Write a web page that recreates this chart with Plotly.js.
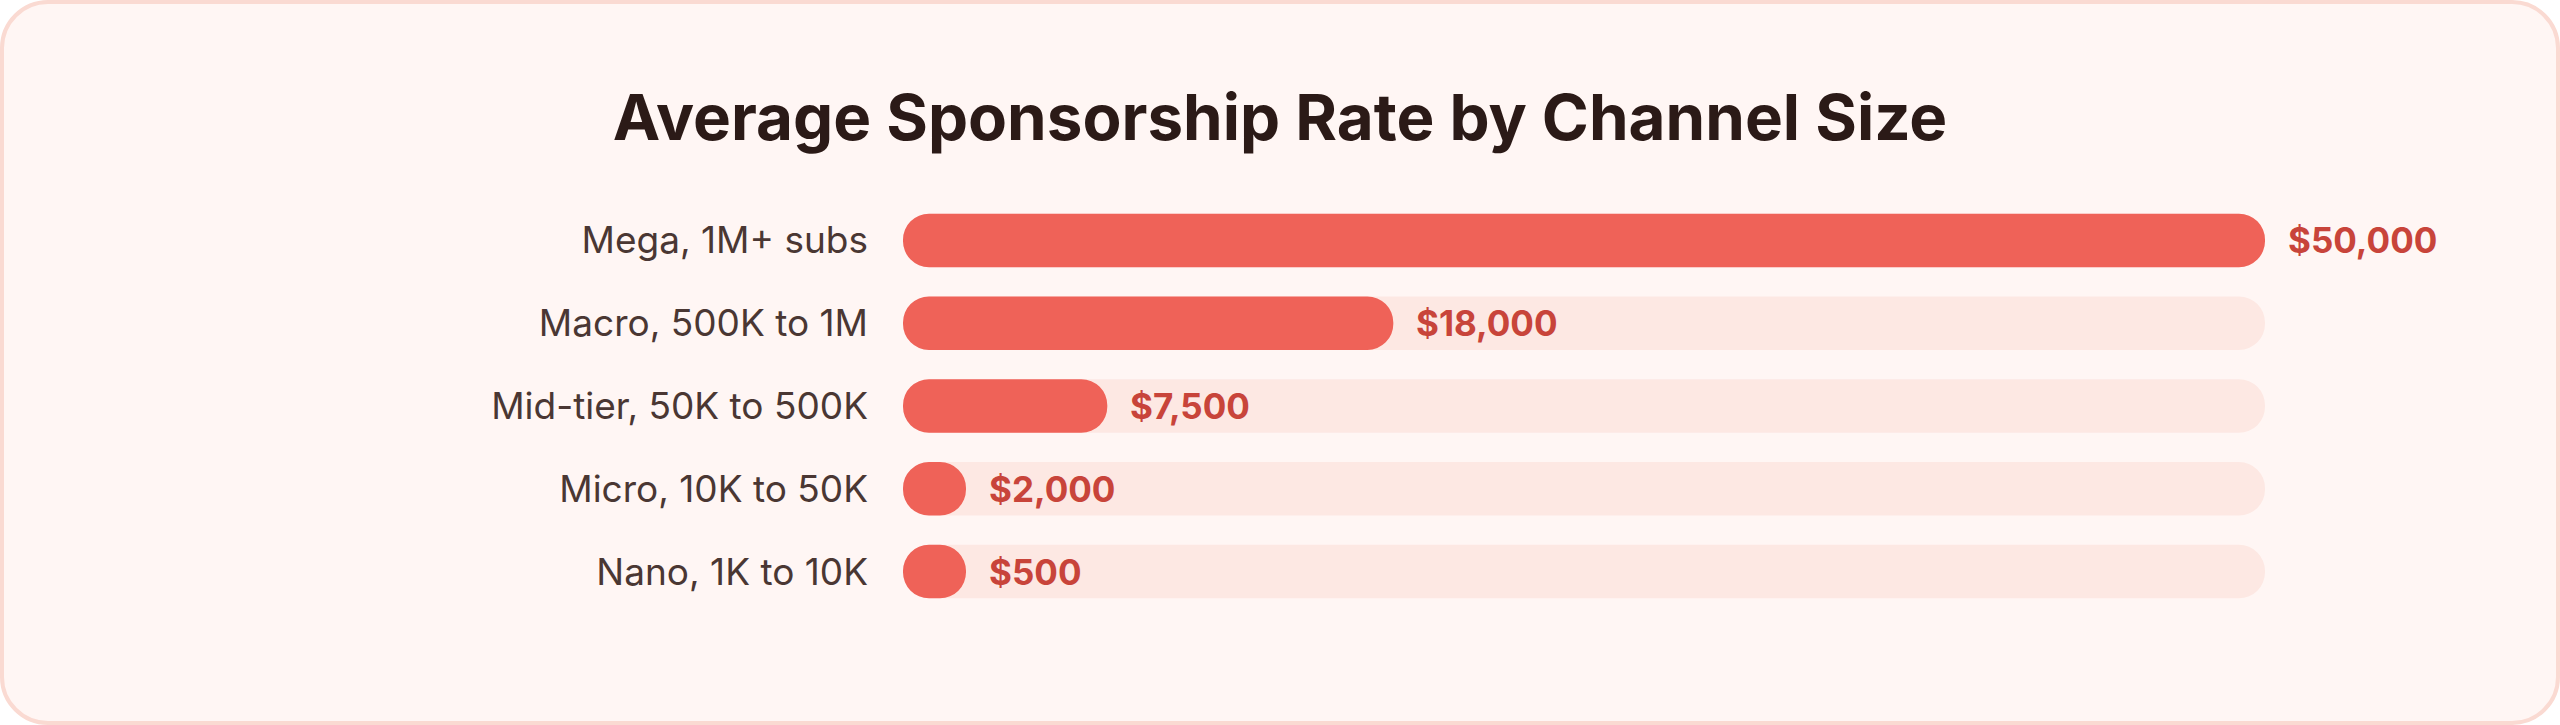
<!DOCTYPE html>
<html>
<head>
<meta charset="utf-8">
<script src="https://cdn.plot.ly/plotly-3.0.1.min.js"></script>
<style>
  html, body { margin: 0; padding: 0; background: #ffffff; }
  #card {
    position: absolute; left: 0; top: 0; width: 2560px; height: 725px;
    box-sizing: border-box; border: 4px solid #fadad2; border-radius: 48px;
    background: #fff6f4;
  }
  #chart { position: absolute; left: 0; top: 0; width: 2560px; height: 725px; }
</style>
</head>
<body>
<div id="card"></div>
<div id="chart"></div>
<script>
// ---- data ----
const categories = ['Mega, 1M+ subs', 'Macro, 500K to 1M', 'Mid-tier, 50K to 500K', 'Micro, 10K to 50K', 'Nano, 1K to 10K'];
const rates = [50000, 18000, 7500, 2000, 500];
const titleText = 'Average Sponsorship Rate by Channel Size';

// ---- layout geometry / style ----
const W = 2560, H = 725;
const M = { l: 903, r: 295, t: 199, b: 112 };
const plotW = W - M.l - M.r;
const rowPx = (H - M.t - M.b) / categories.length;
const barPx = 53.5;
const barFrac = barPx / rowPx;
const minPillPx = 63;

const xmax = Math.max(...rates);
const minData = minPillPx / plotW * xmax;         // minimum visual pill length
const disp = rates.map(v => Math.max(v, minData));

const BAR = '#ef6258', TRACK = '#fde8e3', VAL = '#c8443a';

function pill(ends, color) {
  return {
    type: 'bar', orientation: 'h', y: categories,
    base: ends.map(() => 0), x: ends,
    width: barFrac, marker: { color: color, cornerradius: barPx / 2 },
    cliponaxis: false, hoverinfo: 'skip', showlegend: false
  };
}

const traces = [
  pill(categories.map(() => xmax), TRACK),
  pill(disp, BAR)
];

const annotations = rates.map((v, i) => ({
  x: disp[i], y: categories[i], xref: 'x', yref: 'y',
  text: '$' + v.toLocaleString('en-US'),
  showarrow: false, xanchor: 'left', yanchor: 'middle', xshift: 21,
  font: { family: 'Inter, sans-serif', size: 35, weight: 700, color: VAL }
}));

const layout = {
  width: W, height: H,
  margin: M,
  paper_bgcolor: 'rgba(0,0,0,0)', plot_bgcolor: 'rgba(0,0,0,0)',
  barmode: 'overlay',
  title: {
    text: titleText,
    x: 0.5, xref: 'container', xanchor: 'center',
    y: 1 - 118 / H, yref: 'container', yanchor: 'middle',
    font: { family: 'Inter, sans-serif', size: 63.7, weight: 700, color: '#2b1a17' }
  },
  xaxis: {
    range: [0, xmax], visible: false, showgrid: false, zeroline: false, fixedrange: true
  },
  yaxis: {
    type: 'category', categoryorder: 'array', categoryarray: categories,
    range: [categories.length - 0.5, -0.5],
    showgrid: false, zeroline: false, showline: false, ticks: '',
    ticklabelstandoff: 34,
    tickfont: { family: 'Inter, sans-serif', size: 37, color: '#4a3733' },
    fixedrange: true
  },
  annotations: annotations,
  showlegend: false
};

Plotly.newPlot('chart', traces, layout, { displayModeBar: false, staticPlot: true });
</script>
</body>
</html>
